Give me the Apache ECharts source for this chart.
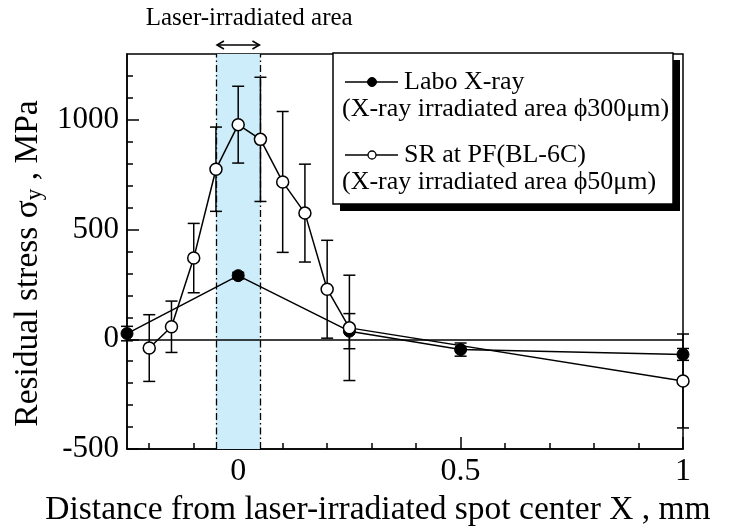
<!DOCTYPE html>
<html>
<head>
<meta charset="utf-8">
<script src="https://cdn.jsdelivr.net/npm/echarts@6/dist/echarts.min.js"></script>
<style>html,body{margin:0;padding:0;background:#fff}#c{width:735px;height:526px}</style>
</head>
<body>
<div id="c"></div>
<script>
// ---- data ----
const xLabo   = [-0.25, 0, 0.25, 0.5, 1];
const yLabo   = [26, 290, 37, -47, -69];
const errLabo = [33, 15, 80, 30, 27];

const xSR   = [-0.2, -0.15, -0.1, -0.05, 0, 0.05, 0.1, 0.15, 0.2, 0.25, 1];
const ySR   = [-40, 57, 370, 775, 978, 911, 717, 575, 228, 52, -190];
const errSR = [152, 117, 158, 192, 175, 283, 321, 223, 223, 240, 214];

const laserBand = [-0.05, 0.05];
const xMajorTicks = [0, 0.5, 1];
const xMinorTicks = [-0.2, -0.1, 0.1, 0.2, 0.3, 0.4, 0.6, 0.7, 0.8, 0.9];
const yMajorTicks = [-500, 0, 500, 1000];
const yMinorTicks = [-400, -300, -200, -100, 100, 200, 300, 400, 600, 700, 800, 900, 1100, 1200];

const FONT = 'Liberation Serif';
const chart = echarts.init(document.getElementById('c'), null, {renderer: 'canvas'});

const pairs = (xs, ys) => xs.map((x, i) => [x, ys[i]]);
const errData = (xs, ys, es) => xs.map((x, i) => [x, ys[i] - es[i], ys[i] + es[i]]);

function errRender(params, api) {
  const x = api.value(0);
  const lo = api.coord([x, api.value(1)]);
  const hi = api.coord([x, api.value(2)]);
  const w = 6;
  const st = {stroke: '#000', lineWidth: 1.5};
  return {
    type: 'group',
    children: [
      {type: 'line', shape: {x1: lo[0], y1: lo[1], x2: hi[0], y2: hi[1]}, style: st},
      {type: 'line', shape: {x1: lo[0] - w, y1: lo[1], x2: lo[0] + w, y2: lo[1]}, style: st},
      {type: 'line', shape: {x1: hi[0] - w, y1: hi[1], x2: hi[0] + w, y2: hi[1]}, style: st}
    ]
  };
}

const axisLineStyle = {color: '#000', width: 1.5};

const option = {
  animation: false,
  backgroundColor: '#fff',
  grid: {left: 127, right: 52, top: 54, bottom: 77, outerBoundsMode: 'none', containLabel: false,
         show: true, borderColor: '#000', borderWidth: 1.5, backgroundColor: 'transparent'},
  xAxis: [
    {
      type: 'value', min: -0.25, max: 1, position: 'bottom',
      axisLine: {show: true, onZero: false, lineStyle: axisLineStyle},
      axisTick: {show: true, inside: true, length: 12, lineStyle: axisLineStyle, customValues: xMajorTicks},
      axisLabel: {show: true, customValues: xMajorTicks, margin: 7, color: '#000', fontFamily: FONT, fontSize: 32,
                  formatter: v => String(v)},
      splitLine: {show: false},
      name: 'Distance from laser-irradiated spot center X , mm',
      nameLocation: 'middle', nameGap: 37,
      nameTextStyle: {color: '#000', fontFamily: FONT, fontSize: 33.5, padding: [0, 54, 0, 0]}
    },
    {
      type: 'value', min: -0.25, max: 1, position: 'bottom',
      axisLine: {show: false, onZero: false},
      axisTick: {show: true, inside: true, length: 6, lineStyle: axisLineStyle, customValues: xMinorTicks},
      axisLabel: {show: false},
      splitLine: {show: false}
    }
  ],
  yAxis: [
    {
      type: 'value', min: -500, max: 1300, position: 'left',
      axisLine: {show: true, onZero: false, lineStyle: axisLineStyle},
      axisTick: {show: true, inside: true, length: 12, lineStyle: axisLineStyle, customValues: yMajorTicks},
      axisLabel: {show: true, customValues: yMajorTicks, margin: 8, color: '#000', fontFamily: FONT, fontSize: 31,
                  formatter: v => String(v)},
      splitLine: {show: false},
      name: '{a|Residual stress σ}{s|y}{a| , MPa}',
      nameLocation: 'middle', nameRotate: 90, nameGap: 80,
      nameTextStyle: {
        color: '#000', fontFamily: FONT, fontSize: 33.5, padding: [0, 24, 0, 0],
        rich: {
          a: {fontFamily: FONT, fontSize: 33.5, color: '#000', lineHeight: 36, verticalAlign: 'middle'},
          s: {fontFamily: FONT, fontSize: 23, color: '#000', lineHeight: 36, verticalAlign: 'bottom'}
        }
      }
    },
    {
      type: 'value', min: -500, max: 1300, position: 'left',
      axisLine: {show: false, onZero: false},
      axisTick: {show: true, inside: true, length: 6, lineStyle: axisLineStyle, customValues: yMinorTicks},
      axisLabel: {show: false},
      splitLine: {show: false}
    }
  ],
  series: [
    {
      // laser-irradiated band + dash-dot edges + zero line
      type: 'line', data: [], silent: true, z: 1,
      markArea: {silent: true, itemStyle: {color: '#ccedf9'},
        data: [[{xAxis: laserBand[0]}, {xAxis: laserBand[1]}]]},
      markLine: {silent: true, symbol: 'none', label: {show: false},
        data: [
          {xAxis: laserBand[0], lineStyle: {color: '#000', width: 1.3, type: [7, 3, 1.5, 3]}},
          {xAxis: laserBand[1], lineStyle: {color: '#000', width: 1.3, type: [7, 3, 1.5, 3]}},
          {yAxis: 0, lineStyle: {color: '#000', width: 1.5, type: 'solid'}}
        ]}
    },
    {
      name: 'errLabo', type: 'custom', z: 3, renderItem: errRender,
      data: errData(xLabo, yLabo, errLabo), encode: {x: 0, y: [1, 2]}
    },
    {
      name: 'errSR', type: 'custom', z: 3, renderItem: errRender,
      data: errData(xSR, ySR, errSR), encode: {x: 0, y: [1, 2]}
    },
    {
      name: 'Labo X-ray', type: 'line', z: 5, data: pairs(xLabo, yLabo),
      symbol: 'circle', symbolSize: 12,
      lineStyle: {color: '#000', width: 1.5},
      itemStyle: {color: '#000', borderColor: '#000', borderWidth: 1}
    },
    {
      name: 'SR at PF(BL-6C)', type: 'line', z: 6, data: pairs(xSR, ySR),
      symbol: 'circle', symbolSize: 12,
      lineStyle: {color: '#000', width: 1.5},
      itemStyle: {color: '#fff', borderColor: '#000', borderWidth: 1.5}
    }
  ]
};
chart.setOption(option);

// annotations placed through the axis scale
const xl = chart.convertToPixel({xAxisIndex: 0}, laserBand[0]);
const xr = chart.convertToPixel({xAxisIndex: 0}, laserBand[1]);
const ay = 45;
const txt = (t, x, y, size, align, z) => ({type: 'text', x: x, y: y, z: z || 10,
  style: {text: t, fill: '#000', font: size + 'px "' + FONT + '"', textAlign: align || 'left', textVerticalAlign: 'middle'}});

const legendX = 333, legendY = 53, legendW = 340, legendH = 151;
chart.setOption({
  graphic: [
    txt('Laser-irradiated area', (xl + xr) / 2 + 11, 18, 25, 'center'),
    {type: 'line', shape: {x1: xl + 1, y1: ay, x2: xr - 1, y2: ay}, style: {stroke: '#000', lineWidth: 1.5}},
    {type: 'polyline', shape: {points: [[xl + 8, ay - 4], [xl + 1, ay], [xl + 8, ay + 4]]}, style: {stroke: '#000', lineWidth: 1.5, fill: null}},
    {type: 'polyline', shape: {points: [[xr - 8, ay - 4], [xr - 1, ay], [xr - 8, ay + 4]]}, style: {stroke: '#000', lineWidth: 1.5, fill: null}},
    {type: 'rect', z: 50, shape: {x: legendX + 7, y: legendY + 7, width: legendW, height: legendH}, style: {fill: '#000'}},
    {type: 'rect', z: 51, shape: {x: legendX, y: legendY, width: legendW, height: legendH}, style: {fill: '#fff', stroke: '#000', lineWidth: 1.5}},
    {type: 'line', z: 52, shape: {x1: 345, y1: 82, x2: 398, y2: 82}, style: {stroke: '#000', lineWidth: 1.5}},
    {type: 'circle', z: 53, shape: {cx: 372, cy: 82, r: 4.5}, style: {fill: '#000', stroke: '#000', lineWidth: 1}},
    txt('Labo X-ray', 404, 82, 26, 'left', 54),
    txt('(X-ray irradiated area ϕ300μm)', 342, 109, 26, 'left', 54),
    {type: 'line', z: 52, shape: {x1: 345, y1: 155, x2: 398, y2: 155}, style: {stroke: '#000', lineWidth: 1.5}},
    {type: 'circle', z: 53, shape: {cx: 372, cy: 155, r: 4}, style: {fill: '#fff', stroke: '#000', lineWidth: 1.3}},
    txt('SR at PF(BL-6C)', 404, 155, 26, 'left', 54),
    txt('(X-ray irradiated area ϕ50μm)', 342, 182, 26, 'left', 54)
  ]
});
</script>
</body>
</html>
